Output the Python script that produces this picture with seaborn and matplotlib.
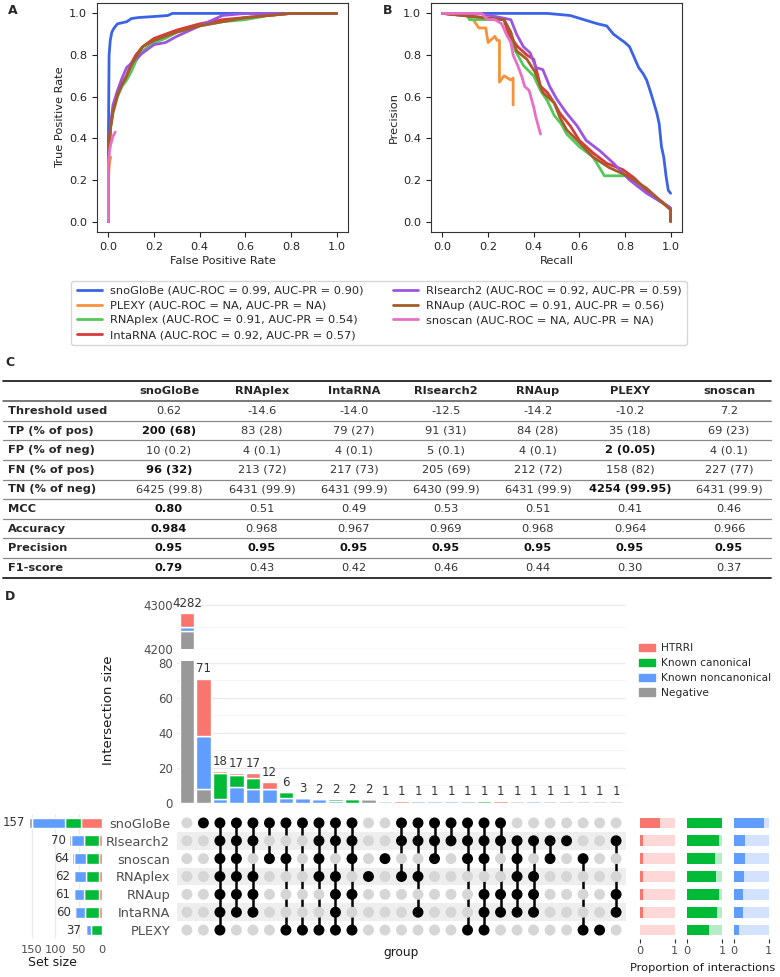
import matplotlib
matplotlib.use("Agg")
import matplotlib.pyplot as plt
from matplotlib.lines import Line2D
from matplotlib.patches import Patch
import numpy as np
import pandas as pd
import seaborn as sns

sns.set_style("ticks")
plt.rcParams["font.family"] = ["DejaVu Sans"]

W, H = 780, 977

# --- A / B : ROC and precision-recall curves ---
tools = ["snoGloBe", "PLEXY", "RNAplex", "IntaRNA", "RIsearch2", "RNAup", "snoscan"]
auc_roc = ["0.99", "NA", "0.91", "0.92", "0.92", "0.91", "NA"]
auc_pr = ["0.90", "NA", "0.54", "0.57", "0.59", "0.56", "NA"]
tool_colors = ["#3A63E6", "#F5923A", "#55C85A", "#D93A3A", "#9B55E0", "#A65B2A", "#E86FC8"]

snoglobe_fpr = [0, 0, 0.003, 0.008, 0.015, 0.025, 0.04, 0.06, 0.08, 0.1, 0.13, 0.2, 0.26, 0.28, 1.0]
snoglobe_tpr = [0, 0.4, 0.8, 0.87, 0.91, 0.93, 0.95, 0.955, 0.96, 0.975, 0.98, 0.985, 0.99, 1.0, 1.0]
plexy_fpr = [0, 0, 0.003, 0.006, 0.01]
plexy_tpr = [0, 0.2, 0.26, 0.29, 0.31]
rnaplex_fpr = [0, 0, 0.01, 0.02, 0.04, 0.06, 0.08, 0.1, 0.12, 0.15, 0.2, 0.25, 0.3, 0.4, 0.5, 0.6, 0.7, 0.8, 1.0]
rnaplex_tpr = [0, 0.3, 0.45, 0.52, 0.6, 0.65, 0.68, 0.72, 0.77, 0.82, 0.86, 0.88, 0.91, 0.94, 0.96, 0.97, 0.99, 1.0, 1.0]
intarna_fpr = [0, 0, 0.01, 0.02, 0.04, 0.06, 0.08, 0.1, 0.12, 0.15, 0.2, 0.25, 0.3, 0.4, 0.5, 0.6, 0.7, 0.8, 1.0]
intarna_tpr = [0, 0.33, 0.46, 0.53, 0.61, 0.66, 0.7, 0.76, 0.8, 0.84, 0.88, 0.9, 0.92, 0.95, 0.97, 0.98, 0.99, 1.0, 1.0]
risearch2_fpr = [0, 0, 0.01, 0.02, 0.04, 0.06, 0.08, 0.1, 0.12, 0.15, 0.2, 0.25, 0.3, 0.4, 0.5, 0.6, 0.7, 0.8, 1.0]
risearch2_tpr = [0, 0.32, 0.47, 0.56, 0.63, 0.69, 0.74, 0.76, 0.78, 0.81, 0.85, 0.86, 0.89, 0.94, 0.99, 1.0, 1.0, 1.0, 1.0]
rnaup_fpr = [0, 0, 0.01, 0.02, 0.04, 0.06, 0.08, 0.1, 0.12, 0.15, 0.2, 0.25, 0.3, 0.4, 0.5, 0.6, 0.7, 0.8, 1.0]
rnaup_tpr = [0, 0.33, 0.46, 0.53, 0.61, 0.66, 0.7, 0.75, 0.79, 0.84, 0.87, 0.89, 0.91, 0.94, 0.96, 0.98, 0.99, 1.0, 1.0]
snoscan_fpr = [0, 0, 0.005, 0.01, 0.02, 0.03]
snoscan_tpr = [0, 0.28, 0.34, 0.37, 0.41, 0.43]

snoglobe_rec = [0, 0.46, 0.56, 0.62, 0.68, 0.72, 0.75, 0.8, 0.82, 0.84, 0.86, 0.88, 0.895, 0.91, 0.924, 0.94, 0.95, 0.96, 0.97, 0.98, 0.99, 1.0]
snoglobe_prec = [1.0, 1.0, 0.99, 0.97, 0.95, 0.94, 0.9, 0.86, 0.84, 0.79, 0.74, 0.71, 0.68, 0.63, 0.58, 0.52, 0.47, 0.36, 0.31, 0.22, 0.15, 0.136]
plexy_rec = [0, 0.12, 0.12, 0.135, 0.16, 0.19, 0.2, 0.23, 0.24, 0.25, 0.25, 0.27, 0.3, 0.31, 0.31]
plexy_prec = [1.0, 1.0, 0.97, 0.97, 0.93, 0.93, 0.86, 0.89, 0.87, 0.87, 0.67, 0.7, 0.68, 0.69, 0.56]
rnaplex_rec = [0, 0.107, 0.12, 0.27, 0.3, 0.32, 0.355, 0.4, 0.43, 0.46, 0.49, 0.52, 0.545, 0.6, 0.66, 0.71, 0.81, 0.9, 1.0, 1.0]
rnaplex_prec = [1.0, 0.99, 0.97, 0.97, 0.89, 0.82, 0.75, 0.7, 0.63, 0.58, 0.51, 0.47, 0.42, 0.36, 0.31, 0.22, 0.22, 0.136, 0.064, 0.0]
intarna_rec = [0, 0.27, 0.29, 0.33, 0.37, 0.4, 0.43, 0.46, 0.49, 0.515, 0.56, 0.6, 0.66, 0.72, 0.79, 0.84, 0.895, 1.0, 1.0]
intarna_prec = [1.0, 0.97, 0.9, 0.84, 0.8, 0.78, 0.65, 0.62, 0.57, 0.52, 0.46, 0.39, 0.33, 0.28, 0.25, 0.21, 0.15, 0.064, 0.0]
risearch2_rec = [0, 0.165, 0.3, 0.325, 0.355, 0.385, 0.41, 0.44, 0.47, 0.5, 0.545, 0.59, 0.63, 0.69, 0.75, 0.82, 0.895, 0.98, 1.0]
risearch2_prec = [1.0, 1.0, 0.97, 0.9, 0.84, 0.81, 0.74, 0.73, 0.65, 0.59, 0.52, 0.46, 0.39, 0.34, 0.28, 0.2, 0.136, 0.08, 0.064]
rnaup_rec = [0, 0.27, 0.3, 0.325, 0.37, 0.405, 0.44, 0.49, 0.515, 0.545, 0.6, 0.66, 0.73, 0.81, 0.895, 1.0, 1.0]
rnaup_prec = [1.0, 0.97, 0.91, 0.82, 0.78, 0.72, 0.62, 0.57, 0.5, 0.44, 0.38, 0.31, 0.26, 0.22, 0.16, 0.056, 0.0]
snoscan_rec = [0, 0.17, 0.2, 0.23, 0.26, 0.28, 0.3, 0.31, 0.33, 0.35, 0.36, 0.38, 0.4, 0.41, 0.42, 0.43]
snoscan_prec = [1.0, 1.0, 0.97, 0.97, 0.95, 0.9, 0.86, 0.8, 0.75, 0.69, 0.65, 0.63, 0.55, 0.5, 0.46, 0.42]

roc_x = [snoglobe_fpr, plexy_fpr, rnaplex_fpr, intarna_fpr, risearch2_fpr, rnaup_fpr, snoscan_fpr]
roc_y = [snoglobe_tpr, plexy_tpr, rnaplex_tpr, intarna_tpr, risearch2_tpr, rnaup_tpr, snoscan_tpr]
pr_x = [snoglobe_rec, plexy_rec, rnaplex_rec, intarna_rec, risearch2_rec, rnaup_rec, snoscan_rec]
pr_y = [snoglobe_prec, plexy_prec, rnaplex_prec, intarna_prec, risearch2_prec, rnaup_prec, snoscan_prec]

# --- C : table ---
table_tools = ["snoGloBe", "RNAplex", "IntaRNA", "RIsearch2", "RNAup", "PLEXY", "snoscan"]
row_names = ["Threshold used", "TP (% of pos)", "FP (% of neg)", "FN (% of pos)",
             "TN (% of neg)", "MCC", "Accuracy", "Precision", "F1-score"]
threshold = ["0.62", "-14.6", "-14.0", "-12.5", "-14.2", "-10.2", "7.2"]
tp = ["200 (68)", "83 (28)", "79 (27)", "91 (31)", "84 (28)", "35 (18)", "69 (23)"]
fp = ["10 (0.2)", "4 (0.1)", "4 (0.1)", "5 (0.1)", "4 (0.1)", "2 (0.05)", "4 (0.1)"]
fn = ["96 (32)", "213 (72)", "217 (73)", "205 (69)", "212 (72)", "158 (82)", "227 (77)"]
tn = ["6425 (99.8)", "6431 (99.9)", "6431 (99.9)", "6430 (99.9)", "6431 (99.9)", "4254 (99.95)", "6431 (99.9)"]
mcc = ["0.80", "0.51", "0.49", "0.53", "0.51", "0.41", "0.46"]
accuracy = ["0.984", "0.968", "0.967", "0.969", "0.968", "0.964", "0.966"]
precision = ["0.95", "0.95", "0.95", "0.95", "0.95", "0.95", "0.95"]
f1 = ["0.79", "0.43", "0.42", "0.46", "0.44", "0.30", "0.37"]
bold_cells = [(1, 0), (2, 5), (3, 0), (4, 5), (5, 0), (6, 0), (7, 0), (7, 1), (7, 2),
              (7, 3), (7, 4), (7, 5), (7, 6), (8, 0)]

# --- D : upset plot ---
upset_tools = ["snoGloBe", "RIsearch2", "snoscan", "RNAplex", "RNAup", "IntaRNA", "PLEXY"]
inter_negative = [4240, 8, 0, 0, 0, 0, 0, 0, 0, 0, 0, 2, 1, 0, 0, 0, 0, 0, 0, 0, 1, 0, 1, 1, 1, 1, 1]
inter_noncanon = [11, 30, 2, 9, 8, 8, 3, 3, 2, 1, 0, 0, 0, 0, 1, 1, 1, 1, 0, 0, 0, 1, 0, 0, 0, 0, 0]
inter_canon = [0, 0, 15, 7, 6, 0, 3, 0, 0, 1, 2, 0, 0, 0, 0, 0, 0, 0, 1, 0, 0, 0, 0, 0, 0, 0, 0]
inter_htrri = [31, 33, 1, 1, 3, 4, 0, 0, 0, 0, 0, 0, 0, 1, 0, 0, 0, 0, 0, 1, 0, 0, 0, 0, 0, 0, 0]
member_snoglobe = [0,1,1,1,1,1,1,1,1,1,1,0,0,1,1,1,1,1,1,1,0,0,0,0,0,0,0]
member_risearch2 = [0,0,1,1,1,0,0,0,1,1,1,0,0,1,1,1,1,1,1,1,1,1,1,1,0,0,1]
member_snoscan = [0,0,1,1,0,1,1,0,1,0,1,0,1,0,0,1,0,1,1,0,1,0,1,0,1,0,0]
member_rnaplex = [0,0,1,1,1,0,0,0,1,1,0,1,0,1,1,0,0,0,0,0,1,1,0,0,0,0,0]
member_rnaup = [0,0,1,1,1,0,0,0,0,1,1,0,0,0,0,0,0,0,1,1,1,1,0,0,0,0,1]
member_intarna = [0,0,1,1,1,0,0,0,0,1,0,0,0,0,1,0,0,0,1,1,1,1,0,0,0,0,1]
member_plexy = [0,0,1,0,0,0,1,1,1,1,1,0,0,0,0,0,0,1,1,0,0,0,0,0,1,1,0]
categories = ["HTRRI", "Known canonical", "Known noncanonical", "Negative"]
cat_colors = {"HTRRI": "#F8766D", "Known canonical": "#00BA38",
              "Known noncanonical": "#619CFF", "Negative": "#999999"}

fig = plt.figure(figsize=(W / 100, H / 100), dpi=100)


def add_ax(x0, y0, x1, y1, **kw):
    return fig.add_axes([x0 / W, 1 - y1 / H, (x1 - x0) / W, (y1 - y0) / H], **kw)


canvas = add_ax(0, 0, W, H, zorder=-5)
canvas.set_xlim(0, W)
canvas.set_ylim(H, 0)
canvas.axis("off")

palette = dict(zip(tools, tool_colors))


def curve_panel(ax, xs, ys, xlabel, ylabel):
    rows = []
    for t, cx, cy in zip(tools, xs, ys):
        for k, (a, b) in enumerate(zip(cx, cy)):
            rows.append({"tool": t, "x": a, "y": b, "k": k})
    df = pd.DataFrame(rows)
    sns.lineplot(data=df, x="x", y="y", hue="tool", hue_order=tools, palette=palette,
                 sort=False, estimator=None, linewidth=2, ax=ax, legend=False)
    ax.set_xlim(-0.05, 1.05)
    ax.set_ylim(-0.05, 1.05)
    ax.set_xticks(np.arange(0, 1.01, 0.2))
    ax.set_yticks(np.arange(0, 1.01, 0.2))
    ax.tick_params(labelsize=8.2, length=3.5, width=0.8, colors="#222222")
    ax.set_xlabel(xlabel, fontsize=8.2, color="#222222", labelpad=3)
    ax.set_ylabel(ylabel, fontsize=8.2, color="#222222", labelpad=3)
    for s in ax.spines.values():
        s.set_linewidth(0.8)
        s.set_color("#333333")


axA = add_ax(97, 3, 348, 232)
curve_panel(axA, roc_x, roc_y, "False Positive Rate", "True Positive Rate")
axB = add_ax(431, 3, 682, 232)
curve_panel(axB, pr_x, pr_y, "Recall", "Precision")

handles = [Line2D([0], [0], color=c, lw=2) for c in tool_colors]
labels = [f"{t} (AUC-ROC = {r}, AUC-PR = {p})" for t, r, p in zip(tools, auc_roc, auc_pr)]
fig.legend(handles, labels, ncol=2, loc="upper center", bbox_to_anchor=(379 / W, 1 - 275 / H),
           fontsize=8.2, frameon=True, edgecolor="#cccccc", fancybox=True,
           handlelength=2.2, handletextpad=0.7, columnspacing=2.6, labelspacing=0.42,
           borderpad=0.45)

for lab, x, y in [("A", 8, 10), ("B", 383, 10), ("C", 5, 362), ("D", 5, 597)]:
    canvas.text(x, y, lab, fontsize=9, fontweight="bold", ha="left", va="center")

# table
col_x = [169, 262, 354, 446, 538, 630, 729]
header_y = 391
row_y = [411 + 19.6 * i for i in range(9)]
table_values = [threshold, tp, fp, fn, tn, mcc, accuracy, precision, f1]
for j, t in enumerate(table_tools):
    canvas.text(col_x[j], header_y, t, fontsize=8.2, fontweight="bold", ha="center", va="center")
for i, name in enumerate(row_names):
    canvas.text(8, row_y[i], name, fontsize=8.2, fontweight="bold", ha="left", va="center")
    for j, v in enumerate(table_values[i]):
        bold = (i, j) in bold_cells
        canvas.text(col_x[j], row_y[i], v, fontsize=8.2, ha="center", va="center",
                    fontweight="bold" if bold else "normal",
                    color="#111111" if bold else "#333333")
canvas.plot([3, 771], [381, 381], color="#222222", lw=1.3)
canvas.plot([3, 771], [401, 401], color="#555555", lw=1.1)
for i in range(8):
    yy = row_y[i] + 9.8
    canvas.plot([3, 771], [yy, yy], color="#888888", lw=0.9)
canvas.plot([3, 771], [row_y[-1] + 9.8] * 2, color="#222222", lw=1.3)

# upset
members = [member_snoglobe, member_risearch2, member_snoscan, member_rnaplex,
           member_rnaup, member_intarna, member_plexy]
ncol = len(inter_negative)
xpos = np.arange(ncol)
stack = [("Negative", inter_negative), ("Known noncanonical", inter_noncanon),
         ("Known canonical", inter_canon), ("HTRRI", inter_htrri)]
totals = np.sum([np.array(v) for _, v in stack], axis=0)

ax_top = add_ax(177, 600.6, 626, 649)
ax_bar = add_ax(177, 661, 626, 803)
for ax in (ax_top, ax_bar):
    bottom = np.zeros(ncol)
    for cat, vals in stack:
        ax.bar(xpos, vals, bottom=bottom, width=0.88, color=cat_colors[cat], zorder=2)
        bottom += np.array(vals)
    ax.set_xlim(-0.6, ncol - 0.4)
    ax.set_xticks([])
    for s in ax.spines.values():
        s.set_visible(False)
    ax.tick_params(axis="y", length=0, labelsize=8.5, labelcolor="#4D4D4D", pad=3)
    ax.grid(axis="y", which="major", color="#EBEBEB", lw=1.0, zorder=0)
    ax.grid(axis="y", which="minor", color="#F2F2F2", lw=0.6, zorder=0)
    ax.set_axisbelow(True)
ax_top.set_ylim(4200, 4310)
ax_top.set_yticks([4200, 4300])
ax_top.set_yticks([4250], minor=True)
ax_bar.set_ylim(0, 81)
ax_bar.set_yticks([0, 20, 40, 60, 80])
ax_bar.set_yticks([10, 30, 50, 70], minor=True)
ax_top.tick_params(axis="y", which="minor", length=0)
ax_bar.tick_params(axis="y", which="minor", length=0)
ax_top.text(0, totals[0] + 6, str(totals[0]), ha="center", va="bottom", fontsize=8.5,
            color="#333333", clip_on=False)
for c in range(1, ncol):
    ax_bar.text(c, totals[c] + 1.8, str(totals[c]), ha="center", va="bottom", fontsize=8.5,
                color="#333333", clip_on=False)
canvas.text(108, 710, "Intersection size", rotation=90, fontsize=9.5, ha="center",
            va="center", color="#1A1A1A")

# membership matrix
ax_mat = add_ax(177, 814, 626, 939)
for r in (1, 3, 5):
    ax_mat.axhspan(r - 0.5, r + 0.5, color="#EEEEEE", lw=0, zorder=0)
dots = pd.DataFrame([{"col": c, "row": r, "in": members[r][c]}
                     for r in range(len(upset_tools)) for c in range(ncol)])
for c in range(ncol):
    rows_in = [r for r in range(len(upset_tools)) if members[r][c]]
    if len(rows_in) > 1:
        ax_mat.plot([c, c], [min(rows_in), max(rows_in)], color="black", lw=1.8, zorder=2)
sns.scatterplot(data=dots, x="col", y="row", hue="in", palette={0: "#D6D6D6", 1: "black"},
                s=62, linewidth=0, legend=False, ax=ax_mat, zorder=3)
ax_mat.set_xlim(-0.6, ncol - 0.4)
ax_mat.set_ylim(len(upset_tools) - 0.5, -0.5)
ax_mat.set_xticks([])
ax_mat.set_yticks(range(len(upset_tools)))
ax_mat.set_yticklabels(upset_tools)
ax_mat.tick_params(axis="y", length=0, labelsize=9.3, labelcolor="#4D4D4D", pad=5)
ax_mat.set_xlabel("group", fontsize=8.7, color="#1A1A1A", labelpad=5)
ax_mat.set_ylabel("")
for s in ax_mat.spines.values():
    s.set_visible(False)

# set sizes
mem = np.array(members)
cat_arrays = {"HTRRI": np.array(inter_htrri), "Known canonical": np.array(inter_canon),
              "Known noncanonical": np.array(inter_noncanon), "Negative": np.array(inter_negative)}
set_sizes = mem @ totals
ax_set = add_ax(2, 814, 102, 939)
left = np.zeros(len(upset_tools))
for cat in categories:
    vals = mem @ cat_arrays[cat]
    ax_set.barh(np.arange(len(upset_tools)), vals, left=left, height=0.6,
                color=cat_colors[cat], zorder=2)
    left += vals
for r, sz in enumerate(set_sizes):
    ax_set.text(sz + 7, r, str(sz), ha="right", va="center", fontsize=8.5, color="#333333")
ax_set.set_xlim(214, 0)
ax_set.set_ylim(len(upset_tools) - 0.5, -0.5)
ax_set.set_yticks([])
ax_set.set_xticks([150, 100, 50, 0])
ax_set.tick_params(axis="x", length=0, labelsize=8.2, labelcolor="#4D4D4D", pad=4)
ax_set.grid(axis="x", color="#EBEBEB", lw=0.9, zorder=0)
ax_set.set_axisbelow(True)
ax_set.set_xlabel("Set size", fontsize=9, color="#1A1A1A", labelpad=1)
for s in ax_set.spines.values():
    s.set_visible(False)

# proportions of interactions
prop_boxes = [(638.3, 676.4), (685.6, 723.7), (732.3, 770.5)]
for cat, (x0, x1) in zip(categories[:3], prop_boxes):
    ax = add_ax(x0, 814, x1, 939)
    frac = (mem @ cat_arrays[cat]) / cat_arrays[cat].sum()
    ys = np.arange(len(upset_tools))
    ax.barh(ys, np.ones(len(ys)), height=0.6, color=cat_colors[cat], alpha=0.28, lw=0)
    ax.barh(ys, frac, height=0.6, color=cat_colors[cat], lw=0)
    ax.set_xlim(-0.05, 1.05)
    ax.set_ylim(len(ys) - 0.5, -0.5)
    ax.set_yticks([])
    ax.set_xticks([0, 1])
    ax.tick_params(axis="x", length=3, width=0.8, color="#333333", labelsize=8.2,
                   labelcolor="#4D4D4D", pad=2)
    for s in ax.spines.values():
        s.set_visible(False)
canvas.text(703, 968, "Proportion of interactions", fontsize=8.2, ha="center", va="center",
            color="#1A1A1A")

leg_handles = [Patch(color=cat_colors[c]) for c in categories]
fig.legend(leg_handles, categories, loc="upper left", bbox_to_anchor=(632 / W, 1 - 636 / H),
           frameon=False, fontsize=7.7, handlelength=1.45, handleheight=0.7,
           handletextpad=0.6, labelspacing=0.45, borderpad=0.2)

fig.savefig("out.png", dpi=100)
